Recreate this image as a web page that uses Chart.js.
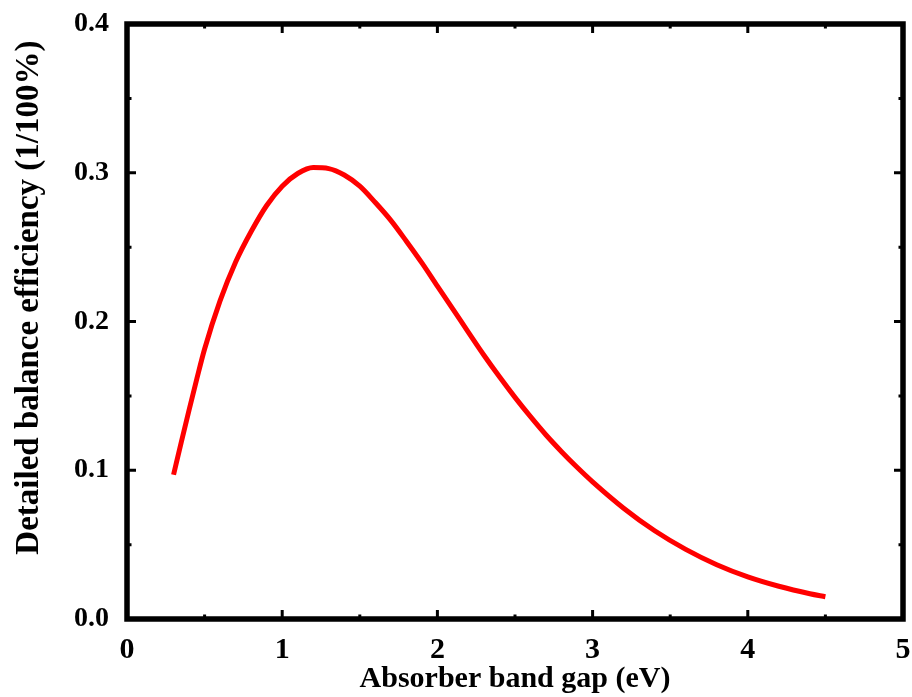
<!DOCTYPE html>
<html>
<head>
<meta charset="utf-8">
<script src="https://cdn.jsdelivr.net/npm/chart.js@4/dist/chart.umd.min.js"></script>
<style>
    body { margin: 0; background: #fff; }
    #wrap { width: 912px; height: 697px; }
</style>
</head>
<body>
<div id="wrap"><canvas id="effChart" width="912" height="697"></canvas></div>
<script>
// band gap (eV) and detailed balance efficiency
const bandGap = [0.30, 0.35, 0.40, 0.45, 0.50, 0.60, 0.70, 0.80, 0.90, 1.00,
    1.10, 1.20, 1.30, 1.40, 1.50, 1.60, 1.70, 1.80, 1.90, 2.00,
    2.10, 2.20, 2.30, 2.40, 2.50, 2.60, 2.70, 2.80, 2.90, 3.00,
    3.20, 3.40, 3.60, 3.80, 4.00, 4.20, 4.40, 4.50];
const efficiency = [0.097, 0.119, 0.1405, 0.1615, 0.1815, 0.214, 0.240, 0.2605, 0.278, 0.291,
    0.2995, 0.3035, 0.3028, 0.2985, 0.291, 0.280, 0.268, 0.254, 0.2394, 0.2238,
    0.2083, 0.1927, 0.1773, 0.1628, 0.149, 0.136, 0.1237, 0.1125, 0.102, 0.0922,
    0.0745, 0.0593, 0.0468, 0.0365, 0.0283, 0.022, 0.017, 0.015];

const xTicks = [0, 1, 2, 3, 4, 5];
const yTicks = [0.0, 0.1, 0.2, 0.3, 0.4];

const FONT = "'Liberation Serif', 'Times New Roman', serif";

// frame and inward ticks on all four sides
const frameTicks = {
    id: 'frameTicks',
    afterDraw(chart) {
        const { ctx, chartArea: a, scales } = chart;
        const xs = scales.x;
        const ys = scales.y;
        ctx.save();
        ctx.strokeStyle = '#000';
        ctx.lineWidth = 3;
        for (let v = 0; v <= 5.001; v += 0.5) {
            const px = xs.getPixelForValue(v);
            const len = Math.abs(v - Math.round(v)) < 1e-6 ? 9 : 4.5;
            ctx.beginPath();
            ctx.moveTo(px, a.bottom); ctx.lineTo(px, a.bottom - len);
            ctx.moveTo(px, a.top); ctx.lineTo(px, a.top + len);
            ctx.stroke();
        }
        for (let v = 0; v <= 0.4001; v += 0.05) {
            const py = ys.getPixelForValue(v);
            const major = Math.abs(v * 10 - Math.round(v * 10)) < 1e-6;
            const len = major ? 9 : 4.5;
            ctx.beginPath();
            ctx.moveTo(a.left, py); ctx.lineTo(a.left + len, py);
            ctx.moveTo(a.right, py); ctx.lineTo(a.right - len, py);
            ctx.stroke();
        }
        ctx.lineWidth = 5.5;
        ctx.strokeRect(a.left, a.top, a.right - a.left, a.bottom - a.top);
        ctx.restore();
    },
};

const ctx = document.getElementById('effChart').getContext('2d');
new Chart(ctx, {
    type: 'scatter',
    data: {
        datasets: [
            {
                data: bandGap.map((x, i) => ({ x, y: efficiency[i] })),
                showLine: true,
                borderColor: '#ff0000',
                borderWidth: 5,
                pointRadius: 0,
                cubicInterpolationMode: 'monotone',
            },
        ],
    },
    options: {
        responsive: false,
        animation: false,
        layout: { padding: { top: 24, right: 9, left: 0, bottom: 0 } },
        plugins: {
            legend: { display: false },
            tooltip: { enabled: false },
        },
        scales: {
            x: {
                type: 'linear',
                min: 0,
                max: 5,
                afterBuildTicks: (s) => { s.ticks = xTicks.map((v) => ({ value: v })); },
                afterFit: (s) => {
                    s.height = 78;
                    s.paddingLeft = 0;
                    s.paddingRight = 0;
                },
                grid: { display: false },
                border: { display: false },
                ticks: {
                    color: '#000',
                    padding: 5,
                    maxRotation: 0,
                    font: { family: FONT, size: 30, weight: 'bold' },
                },
                title: {
                    display: true,
                    text: 'Absorber band gap (eV)',
                    color: '#000',
                    padding: { top: 0, bottom: 0 },
                    font: { family: FONT, size: 30, weight: 'bold' },
                },
            },
            y: {
                type: 'linear',
                min: 0,
                max: 0.4,
                afterBuildTicks: (s) => { s.ticks = yTicks.map((v) => ({ value: v })); },
                afterFit: (s) => {
                    s.width = 127;
                    s.paddingTop = 0;
                    s.paddingBottom = 0;
                },
                grid: { display: false },
                border: { display: false },
                ticks: {
                    color: '#000',
                    padding: 10,
                    callback: (v) => v.toFixed(1),
                    font: { family: FONT, size: 28, weight: 'bold' },
                },
                title: {
                    display: true,
                    text: 'Detailed balance efficiency (1/100%)\u2002',
                    color: '#000',
                    align: 'end',
                    padding: { top: 10, bottom: 0 },
                    font: { family: FONT, size: 33, weight: 'bold' },
                },
            },
        },
    },
    plugins: [frameTicks],
});
</script>
</body>
</html>
